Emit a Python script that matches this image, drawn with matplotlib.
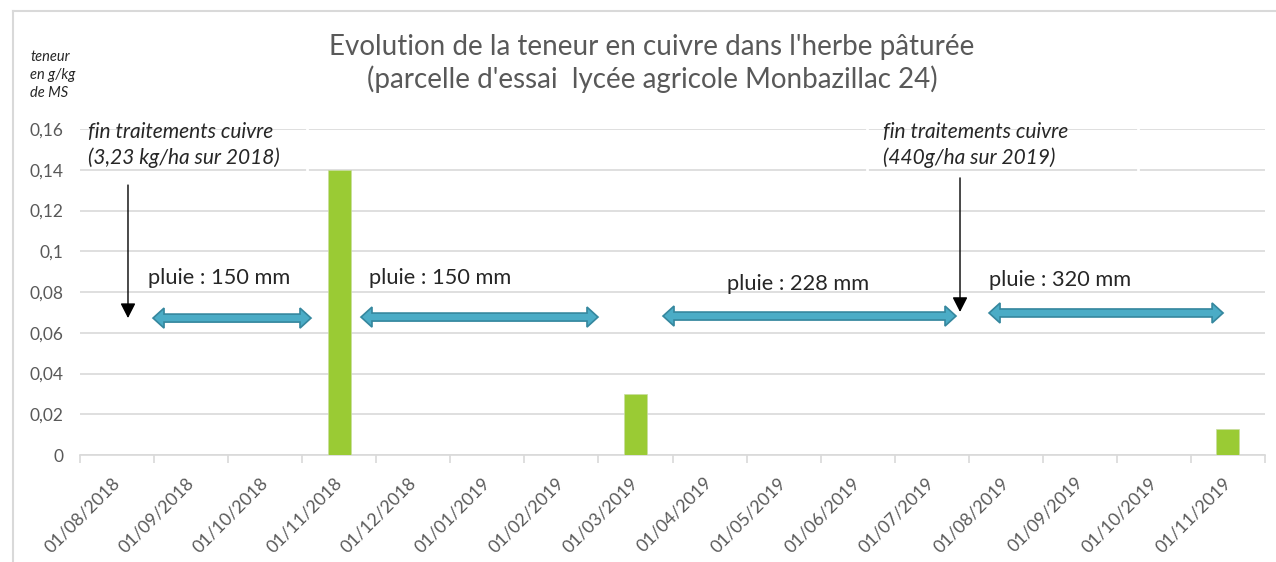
import numpy as np
import matplotlib.pyplot as plt
from matplotlib.lines import Line2D
from matplotlib.patches import Polygon
from matplotlib.transforms import IdentityTransform

plt.rcParams['font.family'] = ['Lato', 'DejaVu Sans']

# Data
months = ['01/08/2018', '01/09/2018', '01/10/2018', '01/11/2018', '01/12/2018',
          '01/01/2019', '01/02/2019', '01/03/2019', '01/04/2019', '01/05/2019',
          '01/06/2019', '01/07/2019', '01/08/2019', '01/09/2019', '01/10/2019',
          '01/11/2019']
sample_dates = ['01/11/2018', '01/03/2019', '01/11/2019']
copper = [0.14, 0.03, 0.013]
yticks = [0, 0.02, 0.04, 0.06, 0.08, 0.1, 0.12, 0.14, 0.16]
ytick_labels = ['0', '0,02', '0,04', '0,06', '0,08', '0,1', '0,12', '0,14', '0,16']

rain_labels = ['pluie : 150 mm', 'pluie : 150 mm', 'pluie : 228 mm', 'pluie : 320 mm']

GRID = '#D9D9D9'
TXT = '#595959'
GREEN = '#9ACB34'
BLUE = '#4BACC6'
BLUE_EDGE = '#35879E'

W, H = 1276, 562
fig = plt.figure(figsize=(W / 100, H / 100), dpi=100)
ax = fig.add_axes([80 / W, 1 - 455 / H, (1265 - 80) / W, (455 - 129) / H])

x = np.arange(len(months))
bar_x = [months.index(d) for d in sample_dates]
ax.bar(bar_x, copper, width=0.31, color=GREEN, edgecolor='#C8DDA0', linewidth=0.5, zorder=3)

ax.set_xlim(-0.5, len(months) - 0.5)
ax.set_ylim(0, 0.16)
ax.set_yticks(yticks)
ax.set_yticklabels(ytick_labels, color=TXT, fontsize=12.5)
ax.tick_params(axis='y', length=0, pad=12)
ax.grid(axis='y', color=GRID, linewidth=1.2, zorder=0)
ax.set_axisbelow(True)

# x axis: labels in the middle, ticks between categories
ax.set_xticks(x)
ax.set_xticklabels(months, rotation=45, ha='right', va='center',
                   rotation_mode='anchor', color=TXT, fontsize=12.8)
ax.tick_params(axis='x', which='major', length=0, pad=18)
ax.set_xticks(np.arange(-0.5, len(months)), minor=True)
ax.tick_params(axis='x', which='minor', length=6, color=GRID, width=1.2)

for s in ['top', 'right', 'left']:
    ax.spines[s].set_visible(False)
ax.spines['bottom'].set_color(GRID)
ax.spines['bottom'].set_linewidth(1.2)


def block_arrow(x0, x1, y, shaft=8, head_w=20, head_l=11):
    # double headed block arrow, sizes in pixels
    (p0, py), (p1, _) = ax.transData.transform([(x0, y), (x1, y)])
    s, h = shaft / 2, head_w / 2
    pts = [(p0, py), (p0 + head_l, py + h), (p0 + head_l, py + s),
           (p1 - head_l, py + s), (p1 - head_l, py + h), (p1, py),
           (p1 - head_l, py - h), (p1 - head_l, py - s), (p0 + head_l, py - s),
           (p0 + head_l, py - h)]
    ax.add_artist(Polygon(pts, closed=True, facecolor=BLUE, edgecolor=BLUE_EDGE,
                          linewidth=1.2, transform=IdentityTransform(), zorder=5))


# rain periods
block_arrow(0.486, 2.619, 0.0672)
block_arrow(3.294, 6.494, 0.0677)
block_arrow(7.372, 11.328, 0.0682)
block_arrow(11.774, 14.934, 0.0697)
ax.text(0.418, 0.0869, rain_labels[0], fontsize=15.7, color='#262626', va='center', zorder=6)
ax.text(3.402, 0.0869, rain_labels[1], fontsize=15.7, color='#262626', va='center', zorder=6)
ax.text(8.236, 0.0839, rain_labels[2], fontsize=15.7, color='#262626', va='center', zorder=6)
ax.text(11.774, 0.0859, rain_labels[3], fontsize=15.7, color='#262626', va='center', zorder=6)

# end of copper treatments
arrow_kw = dict(arrowstyle='-|>,head_length=0.45,head_width=0.23', color='black',
                lw=1, mutation_scale=20, shrinkA=0, shrinkB=0)
ax.annotate('', xy=(0.148, 0.0672), xytext=(0.148, 0.1325), arrowprops=arrow_kw, zorder=6)
ax.annotate('', xy=(11.382, 0.0702), xytext=(11.382, 0.136), arrowprops=arrow_kw, zorder=6)
ax.text(-0.392, 0.1521, 'fin traitements cuivre\n(3,23 kg/ha sur 2018)', fontsize=15,
        style='italic', color='#262626', va='center', linespacing=1.28, zorder=6)
ax.text(10.343, 0.1521, 'fin traitements cuivre\n(440g/ha sur 2019)', fontsize=15,
        style='italic', color='#262626', va='center', linespacing=1.28, zorder=6)

# text box edges hiding the gridlines a little
for px in [307, 867, 1138]:
    fig.add_artist(Line2D([px / W, px / W], [1 - 118 / H, 1 - 172 / H], color='white', lw=2, zorder=4))

# title and unit
fig.text(652 / W, 1 - 63.5 / H,
         "Evolution de la teneur en cuivre dans l'herbe pâturée\n(parcelle d'essai  lycée agricole Monbazillac 24)",
         ha='center', va='center', fontsize=20, color=TXT, linespacing=1.22)
fig.text(30 / W, 1 - 75 / H, 'teneur\nen g/kg\nde MS', fontsize=10.5, style='italic',
         color='#262626', va='center', ha='left', linespacing=1.38)

# chart frame
fig.add_artist(Line2D([13 / W, 13 / W], [0, 1 - 11 / H], color=GRID, lw=1.5))
fig.add_artist(Line2D([13 / W, 1], [1 - 11 / H, 1 - 11 / H], color=GRID, lw=1.5))

fig.savefig('out.png', dpi=100)
